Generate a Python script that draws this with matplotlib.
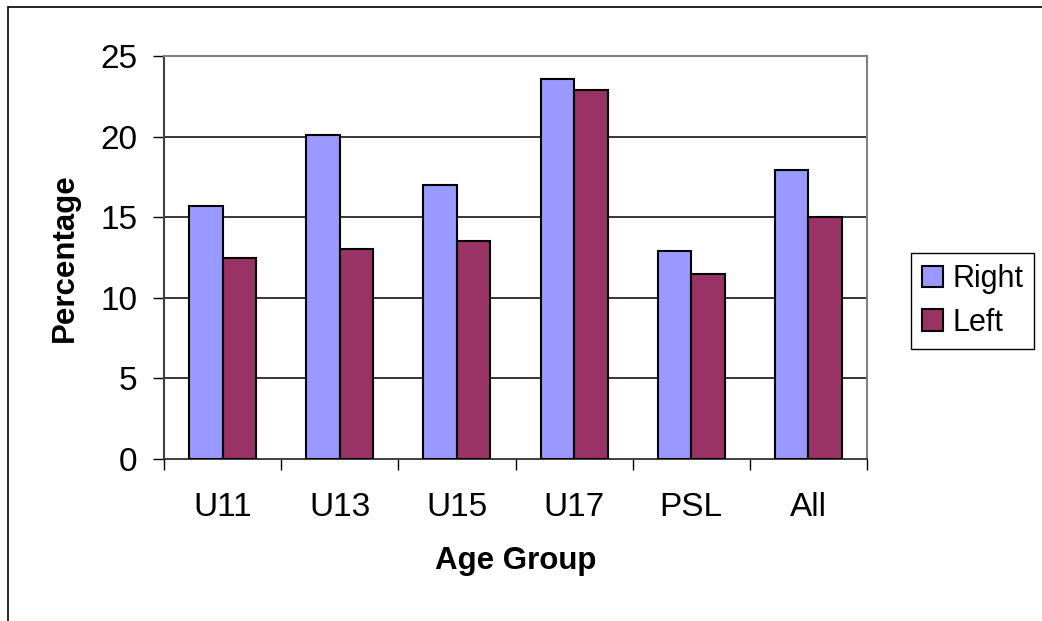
import matplotlib
matplotlib.use("Agg")
import matplotlib.pyplot as plt
import numpy as np
from matplotlib.patches import Patch, Rectangle

categories = ["U11", "U13", "U15", "U17", "PSL", "All"]
right_pct = [15.7, 20.1, 17.0, 23.6, 12.9, 17.9]
left_pct = [12.5, 13.0, 13.5, 22.9, 11.5, 15.0]
series_names = ["Right", "Left"]
y_ticks = [0, 5, 10, 15, 20, 25]

RIGHT_COLOR = "#9999FF"
LEFT_COLOR = "#993366"

plt.rcParams["font.family"] = ["Liberation Sans", "DejaVu Sans"]

W, H = 1042, 621
fig = plt.figure(figsize=(W / 100, H / 100), dpi=100)
fig.patch.set_facecolor("white")

# chart-area border (runs off the right and bottom edges)
fig.patches.append(Rectangle((8 / W, -0.05), 1.2, 1 - 7 / H + 0.05,
                             transform=fig.transFigure, fill=False,
                             edgecolor="black", lw=1.2))

ax = fig.add_axes([164 / W, 1 - 459 / H, (867 - 164) / W, (459 - 56) / H])

x = np.arange(len(categories))
w = 1 / 3.5
ax.bar(x - w / 2, right_pct, w, color=RIGHT_COLOR, edgecolor="black", lw=1.5, zorder=3)
ax.bar(x + w / 2, left_pct, w, color=LEFT_COLOR, edgecolor="black", lw=1.5, zorder=3)

ax.set_xlim(-0.5, len(categories) - 0.5)
ax.set_ylim(0, 25)

for v in y_ticks[1:-1]:
    ax.axhline(v, color="black", lw=1.1, zorder=1)

ax.set_yticks(y_ticks)
ax.tick_params(axis="y", direction="out", length=8, width=1, pad=11, labelsize=24, colors="black")
ax.set_xticks(np.arange(-0.5, len(categories), 1))
ax.set_xticklabels([])
ax.set_xticks(x, minor=True)
ax.set_xticklabels(categories, minor=True)
ax.tick_params(axis="x", which="major", direction="out", length=8, width=1, color="black")
ax.tick_params(axis="x", which="minor", length=0, pad=24, labelsize=24)

for s in ("top", "right"):
    ax.spines[s].set_color("#808080")
    ax.spines[s].set_linewidth(1.5)
ax.spines["left"].set_color("#404040")
ax.spines["left"].set_linewidth(1.5)
ax.spines["bottom"].set_color("#303030")
ax.spines["bottom"].set_linewidth(1.3)

ax.set_xlabel("Age Group", fontsize=22.5, fontweight="bold", labelpad=16)
ax.set_ylabel("Percentage", fontsize=22.5, fontweight="bold", labelpad=15)

handles = [Patch(facecolor=RIGHT_COLOR, edgecolor="black", lw=1.5),
           Patch(facecolor=LEFT_COLOR, edgecolor="black", lw=1.5)]
leg = fig.legend(handles, series_names, loc="center left",
                 bbox_to_anchor=(911 / W, 1 - 301 / H), fontsize=22,
                 frameon=True, fancybox=False, shadow=False, framealpha=1,
                 edgecolor="black", handlelength=0.7, handleheight=0.7,
                 handletextpad=0.3, labelspacing=0.45, borderpad=0.35,
                 borderaxespad=0)
leg.get_frame().set_linewidth(1.0)

fig.savefig("out.png", dpi=100)
